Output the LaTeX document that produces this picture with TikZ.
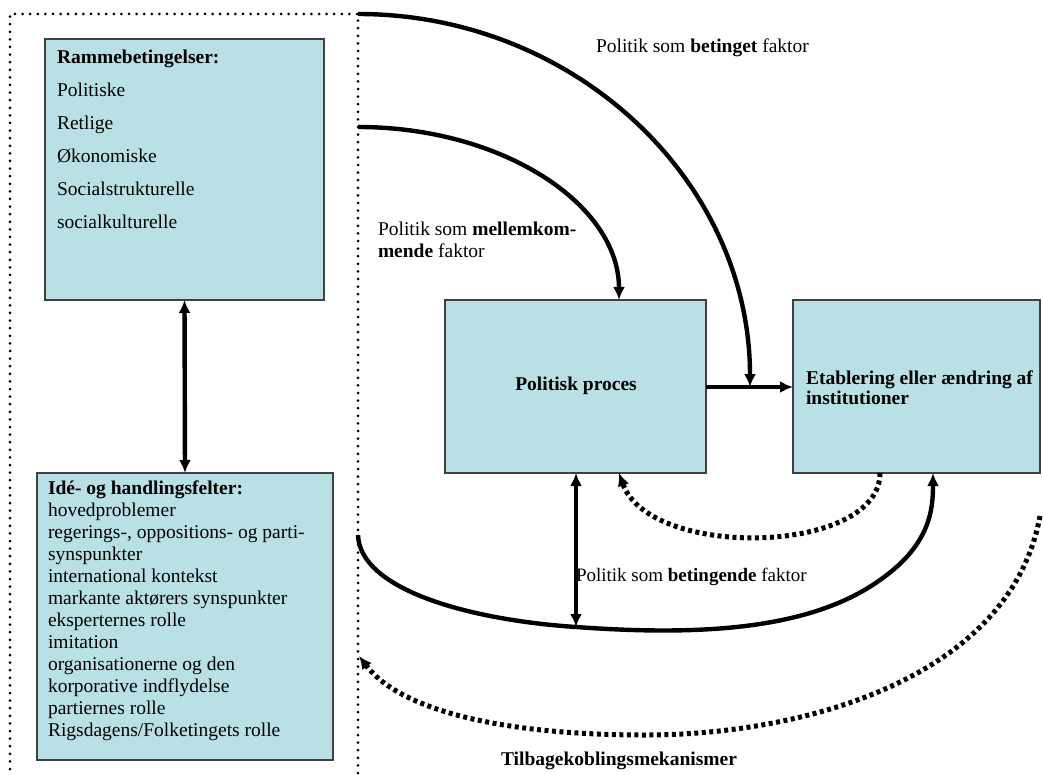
\documentclass[tikz,border=0pt]{standalone}
\usepackage{fontspec}
\setmainfont{Liberation Serif}
\usetikzlibrary{arrows.meta}
\definecolor{boxfill}{RGB}{185,224,228}
\begin{document}
\begin{tikzpicture}[x=1pt,y=-1pt,
  box/.style={draw=black!75, line width=1.3pt, fill=boxfill, inner sep=0pt, outer sep=0pt},
  txt/.style={inner sep=0pt, outer sep=0pt, align=left},
  frame/.style={line width=3pt, line cap=round, dash pattern=on 0pt off 7.6pt},
  main/.style={line width=4.4pt},
  tip/.style={-{Latex[length=13pt,width=12pt]}},
  tips/.style={{Latex[length=13pt,width=12pt]}-{Latex[length=13pt,width=12pt]}},
  fb/.style={line width=5pt, dash pattern=on 4pt off 3.5pt}
]
\useasboundingbox (0,0) rectangle (1043,775);
% dotted frame
\draw[frame] (358,773) -- (358,14) -- (10,14) -- (10,773);
% boxes
\node[box, minimum width=279pt, minimum height=261pt] (ramme) at (184.5,169.5) {};
\node[box, minimum width=296pt, minimum height=287pt] (ide) at (185,616.5) {};
\node[box, minimum width=261pt, minimum height=173pt] (proc) at (575.5,386.5) {};
\node[box, minimum width=247pt, minimum height=173pt] (etab) at (916.5,386.5) {};
% texts
\node[txt, anchor=north west, font=\fontsize{19.5}{33}\selectfont] (rammetxt) at (57,50)
  {\textbf{Rammebetingelser:}\\Politiske\\Retlige\\Økonomiske\\Socialstrukturelle\\socialkulturelle};
\node[txt, anchor=north west, font=\fontsize{19.5}{22}\selectfont] (idetxt) at (48,481)
  {\textbf{Idé- og handlingsfelter:}\\hovedproblemer\\regerings-, oppositions- og parti-\\synspunkter\\international kontekst\\markante aktørers synspunkter\\eksperternes rolle\\imitation\\organisationerne og den\\korporative indflydelse\\partiernes rolle\\Rigsdagens/Folketingets rolle};
\node[txt, font=\fontsize{19.5}{21}\selectfont\bfseries] (proctxt) at (576,386) {Politisk proces};
\node[txt, anchor=west, font=\fontsize{19.5}{20}\selectfont\bfseries] (etabtxt) at (806,388) {Etablering eller ændring af\\institutioner};
\node[txt, anchor=west, font=\fontsize{19.5}{22}\selectfont] (lab1) at (596,48) {Politik som \textbf{betinget} faktor};
\node[txt, anchor=north west, font=\fontsize{19.5}{22}\selectfont] (lab2) at (378,222) {Politik som \textbf{mellemkom-}\\\textbf{mende} faktor};
\node[txt, anchor=west, font=\fontsize{19}{22}\selectfont] (lab3) at (576,577) {Politik som \textbf{betingende} faktor};
\node[txt, font=\fontsize{19.5}{22}\selectfont\bfseries] (lab4) at (619,761) {Tilbagekoblingsmekanismer};
% coordinates
\coordinate (c1) at (358,14);
\coordinate (c2) at (358,127);
\coordinate (c3) at (358,535);
\coordinate (hit) at (750,387);
\coordinate (low) at (576,627);
\coordinate (fbs) at (1040,516);
\coordinate (fbe) at (359,656);
% arrows
\draw[main, tips] (ramme.south) -- (ide.north);
\draw[main, tip] (proc.east |- hit) -- (etab.west |- hit);
\draw[main, tip] (c1) .. controls (574,14) and (750,180) .. (hit);
\draw[main, tip] (c2) .. controls (502,127) and (619,204) .. (proc.north -| 619,0);
\draw[main, tip] (c3) .. controls (360,590) and (470,620) .. (low) .. controls (700,636) and (810,630) .. (880,580) .. controls (930,545) and (933,510) .. (etab.south -| 933,0);
\draw[main, tips] (proc.south -| low) -- (low);
\draw[fb, tip] (etab.south -| 880,0) .. controls (880,555) and (650,560) .. (proc.south -| 619,0);
\draw[fb, tip] (fbs) .. controls (1010,680) and (800,735) .. (646,735) .. controls (500,735) and (400,710) .. (fbe);
\end{tikzpicture}
\end{document}
